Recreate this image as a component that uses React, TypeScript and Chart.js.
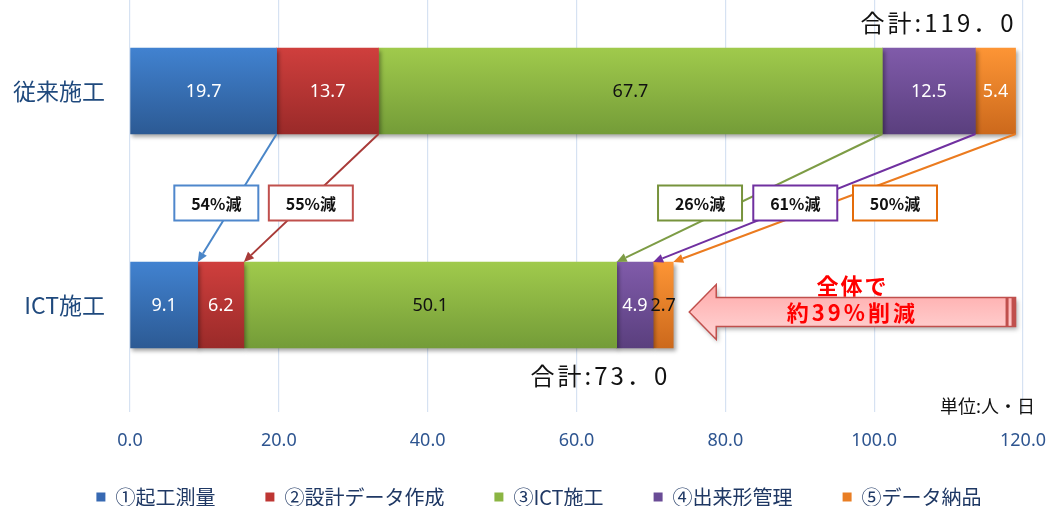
import { useEffect, useRef } from 'react';
import { Chart, registerables } from 'chart.js';

Chart.register(...registerables);

// ---------- data ----------
const categories = ['従来施工', 'ICT施工'];
const seriesNames = ['①起工測量', '②設計データ作成', '③ICT施工', '④出来形管理', '⑤データ納品'];
const survey = [19.7, 9.1];
const designData = [13.7, 6.2];
const ictWork = [67.7, 50.1];
const inspection = [12.5, 4.9];
const delivery = [5.4, 2.7];
const reductionLabels = ['54%減', '55%減', '26%減', '61%減', '50%減'];
const totalLabels = ['合計:119．0', '合計:73．0'];
const overallLine1 = '全体で';
const overallLine2 = '約39%削減';
const unitLabel = '単位:人・日';
const xMin = 0;
const xMax = 120;
const xStep = 20;

// ---------- layout / style ----------
const OFFSET = 40; // canvas is shifted up so the plot area starts above the page
const CANVAS_W = 1046;
const CANVAS_H = 557;
const BAR = 86;
const boxCentersInUnits = [11.6, 24.3, 76.6, 89.4, 102.8];
const gradTop = ['#4182D0', '#CF3F3D', '#A0CA4C', '#805BAA', '#FD9535'];
const gradBottom = ['#2C5A94', '#9A2A29', '#749C38', '#5A3F7E', '#CC691C'];
const legendColors = ['#3769B2', '#BE3633', '#8BB543', '#6A4C96', '#E97E24'];
const lineColors = ['#4A86C8', '#A83A38', '#7D9C45', '#7030A0', '#EB7B1F'];
const boxColors = ['#4F87CC', '#C0504D', '#77933C', '#7030A0', '#E46C0A'];
const labelColors = [
  ['#FFFFFF', '#FFFFFF'],
  ['#FFFFFF', '#FFFFFF'],
  ['#111111', '#111111'],
  ['#FFFFFF', '#FFFFFF'],
  ['#FFFFFF', '#111111'],
];
const CJK = '"Noto Sans CJK JP", "Noto Sans", sans-serif';
const LAT = '"Noto Sans", "Open Sans", sans-serif';

const series = [survey, designData, ictWork, inspection, delivery];

const makeFill = (i: number) => (c: any) => {
  const chart = c.chart;
  const ys = chart.scales && chart.scales.y;
  if (!ys || !chart.chartArea) return gradTop[i];
  const cy = ys.getPixelForValue(c.dataIndex);
  if (!isFinite(cy)) return gradTop[i];
  const g = chart.ctx.createLinearGradient(0, cy - BAR / 2, 0, cy + BAR / 2);
  g.addColorStop(0, gradTop[i]);
  g.addColorStop(1, gradBottom[i]);
  return g;
};

function arrowLine(ctx: CanvasRenderingContext2D, x1: number, y1: number, x2: number, y2: number, color: string) {
  const ang = Math.atan2(y2 - y1, x2 - x1);
  const head = 10;
  const hw = 4.5;
  const bx = x2 - head * Math.cos(ang);
  const by = y2 - head * Math.sin(ang);
  ctx.strokeStyle = color;
  ctx.fillStyle = color;
  ctx.lineWidth = 2;
  ctx.beginPath();
  ctx.moveTo(x1, y1);
  ctx.lineTo(bx, by);
  ctx.stroke();
  ctx.beginPath();
  ctx.moveTo(x2, y2);
  ctx.lineTo(bx + hw * Math.sin(ang), by - hw * Math.cos(ang));
  ctx.lineTo(bx - hw * Math.sin(ang), by + hw * Math.cos(ang));
  ctx.closePath();
  ctx.fill();
}

const shadowPlugin = {
  id: 'barShadow',
  beforeDatasetsDraw(chart: any) {
    const ctx = chart.ctx;
    ctx.save();
    ctx.shadowColor = 'rgba(0,0,0,0.35)';
    ctx.shadowBlur = 4;
    ctx.shadowOffsetX = 2;
    ctx.shadowOffsetY = 3;
  },
  afterDatasetsDraw(chart: any) {
    chart.ctx.restore();
  },
};

const annotationPlugin = {
  id: 'annotations',
  afterDraw(chart: any) {
    const ctx: CanvasRenderingContext2D = chart.ctx;
    const xs = chart.scales.x;
    const area = chart.chartArea;
    const els = series.map((_, i) => chart.getDatasetMeta(i).data.map((e: any) => e.getProps(['x', 'y', 'base', 'height'], true)));
    const top = els.map((d: any) => d[0]);
    const bot = els.map((d: any) => d[1]);
    const topBottom = top[0].y + top[0].height / 2;
    const botTop = bot[0].y - bot[0].height / 2;
    const totals = [0, 1].map((j) => series.reduce((s, a) => s + a[j], 0));

    ctx.save();
    // connectors
    for (let i = 0; i < series.length; i++) {
      arrowLine(ctx, top[i].x, top[i].y + top[i].height / 2, bot[i].x, bot[i].y - bot[i].height / 2, lineColors[i]);
    }
    // reduction boxes
    const boxY = (topBottom + botTop) / 2 + 5;
    for (let i = 0; i < reductionLabels.length; i++) {
      const cx = xs.getPixelForValue(boxCentersInUnits[i]);
      const w = 84;
      const h = 35;
      ctx.fillStyle = '#FFFFFF';
      ctx.fillRect(cx - w / 2, boxY - h / 2, w, h);
      ctx.strokeStyle = boxColors[i];
      ctx.lineWidth = 2;
      ctx.strokeRect(cx - w / 2, boxY - h / 2, w, h);
      ctx.fillStyle = '#111111';
      ctx.font = `bold 16px ${CJK}`;
      ctx.textAlign = 'center';
      ctx.textBaseline = 'middle';
      ctx.fillText(reductionLabels[i], cx, boxY + 1);
    }
    // data labels
    ctx.font = `18px ${LAT}`;
    ctx.textAlign = 'center';
    ctx.textBaseline = 'middle';
    for (let i = 0; i < series.length; i++) {
      for (let j = 0; j < 2; j++) {
        const e = els[i][j];
        ctx.fillStyle = labelColors[i][j];
        ctx.fillText(series[i][j].toFixed(1), (e.x + e.base) / 2, e.y + 1);
      }
    }
    // totals
    (ctx as any).letterSpacing = '3px';
    ctx.fillStyle = '#111111';
    ctx.font = `24px ${CJK}`;
    ctx.textAlign = 'right';
    ctx.fillText(totalLabels[0], xs.getPixelForValue(totals[0]) + 1, top[0].y - top[0].height / 2 - 25);
    ctx.fillText(totalLabels[1], xs.getPixelForValue(totals[1]) - 3, bot[0].y + bot[0].height / 2 + 28);
    (ctx as any).letterSpacing = '0px';
    // unit
    ctx.font = `18px ${CJK}`;
    ctx.textAlign = 'right';
    ctx.fillText(unitLabel, xs.getPixelForValue(xMax) + 12, area.bottom - 6);

    // big arrow
    const tipX = xs.getPixelForValue(totals[1]) + 16;
    const endX = xs.getPixelForValue(totals[0]);
    const cy = bot[0].y + 7;
    const headLen = 27;
    const headH = 27.5;
    const shaftH = 14.5;
    ctx.save();
    ctx.shadowColor = 'rgba(0,0,0,0.3)';
    ctx.shadowBlur = 4;
    ctx.shadowOffsetX = 2;
    ctx.shadowOffsetY = 3;
    const g = ctx.createLinearGradient(0, cy - headH, 0, cy + headH);
    g.addColorStop(0, '#FFA9A9');
    g.addColorStop(1, '#FFD6D6');
    ctx.beginPath();
    ctx.moveTo(tipX, cy);
    ctx.lineTo(tipX + headLen, cy - headH);
    ctx.lineTo(tipX + headLen, cy - shaftH);
    ctx.lineTo(endX, cy - shaftH);
    ctx.lineTo(endX, cy + shaftH);
    ctx.lineTo(tipX + headLen, cy + shaftH);
    ctx.lineTo(tipX + headLen, cy + headH);
    ctx.closePath();
    ctx.fillStyle = g;
    ctx.fill();
    ctx.restore();
    ctx.strokeStyle = '#C0504D';
    ctx.lineWidth = 1.5;
    ctx.stroke();
    ctx.fillStyle = '#C0504D';
    ctx.fillRect(endX - 10, cy - shaftH, 3, shaftH * 2);
    ctx.fillRect(endX - 4, cy - shaftH, 4, shaftH * 2);
    const midX = (tipX + endX) / 2;
    ctx.fillStyle = '#FF0000';
    ctx.textAlign = 'center';
    ctx.font = `bold 22px ${CJK}`;
    (ctx as any).letterSpacing = '2px';
    ctx.fillText(overallLine1, midX, cy - 26);
    (ctx as any).letterSpacing = '3px';
    ctx.fillText(overallLine2, midX, cy + 1);
    (ctx as any).letterSpacing = '0px';
    ctx.restore();
  },
};

export default function App() {
  const ref = useRef<HTMLCanvasElement>(null);
  useEffect(() => {
    const canvas = ref.current;
    if (!canvas) return;
    const chart = new Chart(canvas, {
      type: 'bar',
      data: {
        labels: categories,
        datasets: series.map((d, i) => ({
          label: seriesNames[i],
          data: d,
          backgroundColor: makeFill(i),
          borderWidth: 0,
          barThickness: BAR,
        })),
      },
      options: {
        indexAxis: 'y',
        responsive: false,
        animation: false,
        devicePixelRatio: 1,
        layout: { padding: { top: 24, left: 32, right: 0, bottom: 0 } },
        plugins: {
          tooltip: { enabled: false },
          legend: {
            position: 'bottom',
            labels: {
              boxWidth: 9,
              boxHeight: 9,
              padding: 50,
              color: '#1F3864',
              font: { size: 20, family: CJK },
              generateLabels: (ch: any) =>
                ch.data.datasets.map((ds: any, i: number) => ({
                  text: ds.label,
                  fillStyle: legendColors[i],
                  strokeStyle: legendColors[i],
                  lineWidth: 0,
                  hidden: false,
                  datasetIndex: i,
                  fontColor: '#1F3864',
                })),
            },
          },
        },
        scales: {
          x: {
            stacked: true,
            min: xMin,
            max: xMax,
            ticks: {
              stepSize: xStep,
              padding: 18,
              color: '#2E5590',
              font: { size: 18, family: LAT },
              callback: (v: any) => Number(v).toFixed(1),
            },
            grid: { color: '#D6E2F2', drawTicks: false, lineWidth: 1.2 },
            border: { display: false },
            afterFit: (s: any) => {
              s.height = 25;
              s.paddingLeft = 0;
              s.paddingRight = 23;
              s._computeLabelArea = () => undefined;
            },
          },
          y: {
            stacked: true,
            ticks: {
              padding: 25,
              color: '#1F497D',
              font: { size: 23, family: CJK },
            },
            grid: { display: false, drawTicks: false },
            border: { display: false },
            afterFit: (s: any) => {
              s.width = 98;
              s.paddingTop = 0;
              s.paddingBottom = 0;
              s._computeLabelArea = () => undefined;
            },
          },
        },
      },
      plugins: [shadowPlugin, annotationPlugin],
    } as any);
    return () => chart.destroy();
  }, []);
  return (
    <div style={{ position: 'fixed', left: 0, top: -OFFSET, width: CANVAS_W, height: CANVAS_H, background: '#FFFFFF' }}>
      <canvas ref={ref} width={CANVAS_W} height={CANVAS_H} style={{ display: 'block' }} />
    </div>
  );
}
